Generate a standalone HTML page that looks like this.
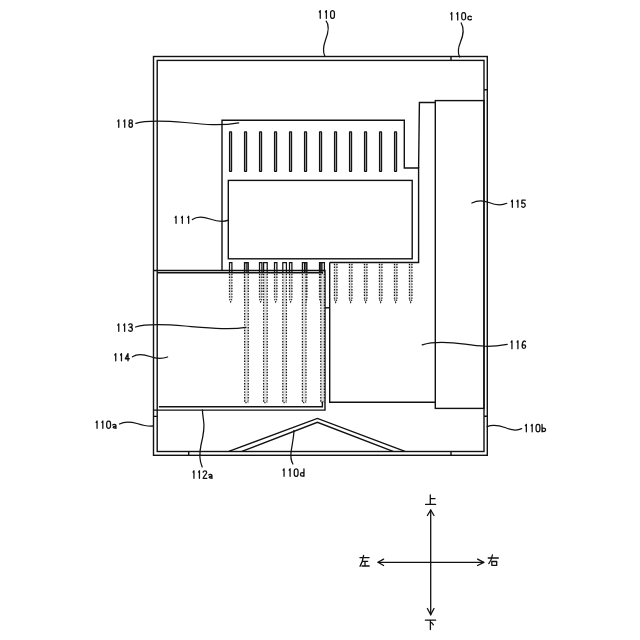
<!DOCTYPE html><html><head><meta charset="utf-8"><style>html,body{margin:0;padding:0;background:#fff;width:640px;height:640px;overflow:hidden}svg{display:block}text{font-family:"Liberation Sans",sans-serif;fill:#111}</style></head><body>
<svg width="640" height="640" viewBox="0 0 640 640">
<g fill="none" stroke="#111" stroke-width="1.4" stroke-linecap="butt" stroke-linejoin="miter">
<rect x="153.5" y="56.5" width="333.8" height="398.8"/>
<rect x="157.2" y="60.4" width="326.8" height="391.1"/>
<path d="M451,56.5V60.4 M484,89.7H487.3 M484,416.3H487.3 M153.5,416.4H157.2 M188.7,451.5V455.3 M451,451.5V455.3"/>
<path d="M222,270.5V120.3H404.3V168H418.6V262.5H329.7"/>
<path d="M418.6,168L419.4,102.5H435.3"/>
<rect x="435.3" y="100.6" width="48.7" height="307.8"/>
<path d="M329.7,262.5V402.2H435.3"/>
<rect x="228.3" y="180.4" width="183.9" height="78.4"/>
<path d="M153.5,270.5H325V410.1H153.5 M157.2,272.8H322.4V406.8H158.9"/>
<path d="M325,307.8H329.7"/>
<path d="M228.8,451.3L317.4,418.4L405,451.3 M241.9,451.3L317.4,422.3L393.1,451.3"/>
</g>
<g fill="#999" stroke="#111" stroke-width="1.15">
<rect x="229.50" y="131.8" width="2.1" height="39.6" rx="0.35" ry="0.35"/>
<rect x="244.50" y="131.8" width="2.1" height="39.6" rx="0.35" ry="0.35"/>
<rect x="259.50" y="131.8" width="2.1" height="39.6" rx="0.35" ry="0.35"/>
<rect x="274.50" y="131.8" width="2.1" height="39.6" rx="0.35" ry="0.35"/>
<rect x="289.50" y="131.8" width="2.1" height="39.6" rx="0.35" ry="0.35"/>
<rect x="304.50" y="131.8" width="2.1" height="39.6" rx="0.35" ry="0.35"/>
<rect x="319.50" y="131.8" width="2.1" height="39.6" rx="0.35" ry="0.35"/>
<rect x="334.50" y="131.8" width="2.1" height="39.6" rx="0.35" ry="0.35"/>
<rect x="349.50" y="131.8" width="2.1" height="39.6" rx="0.35" ry="0.35"/>
<rect x="364.50" y="131.8" width="2.1" height="39.6" rx="0.35" ry="0.35"/>
<rect x="379.50" y="131.8" width="2.1" height="39.6" rx="0.35" ry="0.35"/>
<rect x="394.50" y="131.8" width="2.1" height="39.6" rx="0.35" ry="0.35"/>
</g>
<g fill="none" stroke="#111" stroke-width="1.25">
<path d="M229.50,272.6V262.5H231.90V272.6"/>
<path stroke="#ddd" stroke-width="2.40" d="M230.70,273.8V300"/>
<path stroke-dasharray="1.4 1.4" d="M229.50,273.8V299 M231.90,273.8V299"/>
<path stroke-dasharray="1.1 1.1" d="M229.50,299.3L230.70,301.8L231.90,299.3"/>
<path d="M244.50,272.6V262.5H246.90V272.6"/>
<path stroke="#ddd" stroke-width="2.40" d="M245.70,273.8V300"/>
<path stroke-dasharray="1.4 1.4" d="M244.50,273.8V299 M246.90,273.8V299"/>
<path stroke-dasharray="1.1 1.1" d="M244.50,299.3L245.70,301.8L246.90,299.3"/>
<path d="M259.50,272.6V262.5H261.90V272.6"/>
<path stroke="#ddd" stroke-width="2.40" d="M260.70,273.8V300"/>
<path stroke-dasharray="1.4 1.4" d="M259.50,273.8V299 M261.90,273.8V299"/>
<path stroke-dasharray="1.1 1.1" d="M259.50,299.3L260.70,301.8L261.90,299.3"/>
<path d="M274.50,272.6V262.5H276.90V272.6"/>
<path stroke="#ddd" stroke-width="2.40" d="M275.70,273.8V300"/>
<path stroke-dasharray="1.4 1.4" d="M274.50,273.8V299 M276.90,273.8V299"/>
<path stroke-dasharray="1.1 1.1" d="M274.50,299.3L275.70,301.8L276.90,299.3"/>
<path d="M289.50,272.6V262.5H291.90V272.6"/>
<path stroke="#ddd" stroke-width="2.40" d="M290.70,273.8V300"/>
<path stroke-dasharray="1.4 1.4" d="M289.50,273.8V299 M291.90,273.8V299"/>
<path stroke-dasharray="1.1 1.1" d="M289.50,299.3L290.70,301.8L291.90,299.3"/>
<path d="M304.50,272.6V262.5H306.90V272.6"/>
<path stroke="#ddd" stroke-width="2.40" d="M305.70,273.8V300"/>
<path stroke-dasharray="1.4 1.4" d="M304.50,273.8V299 M306.90,273.8V299"/>
<path stroke-dasharray="1.1 1.1" d="M304.50,299.3L305.70,301.8L306.90,299.3"/>
<path d="M319.50,272.6V262.5H321.90V272.6"/>
<path stroke="#ddd" stroke-width="2.40" d="M320.70,273.8V300"/>
<path stroke-dasharray="1.4 1.4" d="M319.50,273.8V299 M321.90,273.8V299"/>
<path stroke-dasharray="1.1 1.1" d="M319.50,299.3L320.70,301.8L321.90,299.3"/>
<path stroke="#ddd" stroke-width="2.50" d="M335.70,263.8V300.5"/>
<path stroke-dasharray="1.4 1.4" d="M334.45,263.8V299.3 M336.95,263.8V299.3"/>
<path stroke-dasharray="1.1 1.1" d="M334.45,299.6L335.70,302.2L336.95,299.6"/>
<path stroke="#ddd" stroke-width="2.50" d="M350.70,263.8V300.5"/>
<path stroke-dasharray="1.4 1.4" d="M349.45,263.8V299.3 M351.95,263.8V299.3"/>
<path stroke-dasharray="1.1 1.1" d="M349.45,299.6L350.70,302.2L351.95,299.6"/>
<path stroke="#ddd" stroke-width="2.50" d="M365.70,263.8V300.5"/>
<path stroke-dasharray="1.4 1.4" d="M364.45,263.8V299.3 M366.95,263.8V299.3"/>
<path stroke-dasharray="1.1 1.1" d="M364.45,299.6L365.70,302.2L366.95,299.6"/>
<path stroke="#ddd" stroke-width="2.50" d="M380.70,263.8V300.5"/>
<path stroke-dasharray="1.4 1.4" d="M379.45,263.8V299.3 M381.95,263.8V299.3"/>
<path stroke-dasharray="1.1 1.1" d="M379.45,299.6L380.70,302.2L381.95,299.6"/>
<path stroke="#ddd" stroke-width="2.50" d="M395.70,263.8V300.5"/>
<path stroke-dasharray="1.4 1.4" d="M394.45,263.8V299.3 M396.95,263.8V299.3"/>
<path stroke-dasharray="1.1 1.1" d="M394.45,299.6L395.70,302.2L396.95,299.6"/>
<path stroke="#ddd" stroke-width="2.50" d="M410.70,263.8V300.5"/>
<path stroke-dasharray="1.4 1.4" d="M409.45,263.8V299.3 M411.95,263.8V299.3"/>
<path stroke-dasharray="1.1 1.1" d="M409.45,299.6L410.70,302.2L411.95,299.6"/>
<path d="M244.65,272.6V262.5H248.25V272.6"/>
<path stroke="#e2e2e2" stroke-width="3.60" d="M246.45,273.8V401.5"/>
<path stroke-dasharray="1.4 1.4" d="M244.65,273.8V400.5 M248.25,273.8V400.5"/>
<path stroke-dasharray="1.1 1.0" d="M244.65,400.5Q244.65,402.6 246.45,402.6Q248.25,402.6 248.25,400.5"/>
<path d="M263.60,272.6V262.5H267.20V272.6"/>
<path stroke="#e2e2e2" stroke-width="3.60" d="M265.40,273.8V401.5"/>
<path stroke-dasharray="1.4 1.4" d="M263.60,273.8V400.5 M267.20,273.8V400.5"/>
<path stroke-dasharray="1.1 1.0" d="M263.60,400.5Q263.60,402.6 265.40,402.6Q267.20,402.6 267.20,400.5"/>
<path d="M282.80,272.6V262.5H286.40V272.6"/>
<path stroke="#e2e2e2" stroke-width="3.60" d="M284.60,273.8V401.5"/>
<path stroke-dasharray="1.4 1.4" d="M282.80,273.8V400.5 M286.40,273.8V400.5"/>
<path stroke-dasharray="1.1 1.0" d="M282.80,400.5Q282.80,402.6 284.60,402.6Q286.40,402.6 286.40,400.5"/>
<path d="M302.40,272.6V262.5H306.00V272.6"/>
<path stroke="#e2e2e2" stroke-width="3.60" d="M304.20,273.8V401.5"/>
<path stroke-dasharray="1.4 1.4" d="M302.40,273.8V400.5 M306.00,273.8V400.5"/>
<path stroke-dasharray="1.1 1.0" d="M302.40,400.5Q302.40,402.6 304.20,402.6Q306.00,402.6 306.00,400.5"/>
<path d="M320.80,272.6V262.5H324.40V272.6"/>
<path stroke="#e2e2e2" stroke-width="3.60" d="M322.60,273.8V401.5"/>
<path stroke-dasharray="1.4 1.4" d="M320.80,273.8V400.5 M324.40,273.8V400.5"/>
<path stroke-dasharray="1.1 1.0" d="M320.80,400.5Q320.80,402.6 322.60,402.6Q324.40,402.6 324.40,400.5"/>
</g>
<g fill="none" stroke="#111" stroke-width="1.25" stroke-linecap="round">
<path d="M326.2,21.1C329.5,25 328.5,32 325.5,40C323,47 322.5,52 325,56.5"/>
<path d="M461.2,23C464,28 463.5,35 460.5,42C458,48 457.5,53 459.7,57"/>
<path d="M135.8,123.3C145,120.5 160,120.5 185,122.5C205,124.5 220,126 238.7,122.8"/>
<path d="M192.4,219.5C197,216 203,216.5 210,219C217,221.5 223,222.5 228.5,220.2"/>
<path d="M471.9,203C477,200.5 483,200.3 489,202.5C495,205 500,206.3 506.8,203.3"/>
<path d="M135.6,327C145,324 160,324 185,326C210,328 230,330 245.9,327.3"/>
<path d="M132.4,356.8C137,353.8 143,354 150,356.5C156,358.7 162,359 167.6,357"/>
<path d="M422.2,344.8C433,341.5 448,341.8 465,344.2C480,346.5 490,347.3 507.2,344.4"/>
<path d="M119.5,424C124,421.5 130,421.5 137,423.5C144,425.7 149,426.5 153.5,425.9"/>
<path d="M487.1,426.6C492,424.5 498,425 505,427.5C512,430.5 517,431 521.6,428.6"/>
<path d="M202.2,466.9C199.5,461 199.5,452 201,445C203,437 205,428 203.5,420C202.8,415 202.3,412 202.5,410"/>
<path d="M292.9,464C290.8,460.5 290.5,456 291.2,451C292,445 293.8,437 294,430.5"/>
</g>
<g fill="none" stroke="#111" stroke-width="1.3" stroke-linecap="round" stroke-linejoin="round">
<path d="M319.35,11.95L320.25,10.65V18.35M325.48,11.95L326.38,10.65V18.35M332.50,10.65C334.52,10.65 334.43,12.58 334.43,14.50C334.43,16.43 334.52,18.35 332.50,18.35C330.48,18.35 330.57,16.43 330.57,14.50C330.57,12.58 330.48,10.65 332.50,10.65Z"/>
<path d="M450.85,13.85L451.75,12.55V19.95M456.80,13.85L457.70,12.55V19.95M463.65,12.55C465.67,12.55 465.58,14.40 465.58,16.25C465.58,18.10 465.67,19.95 463.65,19.95C461.63,19.95 461.73,18.10 461.73,16.25C461.73,14.40 461.63,12.55 463.65,12.55ZM471.35,16.75C470.55,15.70 467.85,15.70 467.85,18.00C467.85,20.30 470.55,20.30 471.35,19.25"/>
<path d="M117.85,121.15L118.75,119.85V127.25M123.82,121.15L124.72,119.85V127.25M130.70,119.85C132.91,119.85 132.91,123.05 130.70,123.05C128.49,123.05 128.49,119.85 130.70,119.85ZM130.70,123.05C133.03,123.05 133.03,127.25 130.70,127.25C128.37,127.25 128.37,123.05 130.70,123.05Z"/>
<path d="M175.15,217.55L176.05,216.25V223.35M181.45,217.55L182.35,216.25V223.35M187.75,217.55L188.65,216.25V223.35"/>
<path d="M511.45,201.45L512.35,200.15V207.35M517.02,201.45L517.92,200.15V207.35M525.25,200.15H522.00L521.75,203.55C522.90,202.55 525.25,202.65 525.25,205.25C525.25,207.80 521.75,207.80 521.75,206.15"/>
<path d="M117.85,325.15L118.75,323.85V331.25M123.72,325.15L124.62,323.85V331.25M128.75,324.85C129.05,323.45 132.25,323.45 132.20,325.35C132.15,326.85 130.80,327.25 130.00,327.25M130.40,327.25C132.40,327.25 132.40,328.25 132.40,329.65C132.40,331.70 128.75,331.70 128.75,330.15"/>
<path d="M114.85,354.95L115.75,353.65V360.85M120.57,354.95L121.47,353.65V360.85M128.00,360.85V353.65L125.30,358.75H129.30"/>
<path d="M511.05,342.05L511.95,340.75V348.65M517.02,342.05L517.92,340.75V348.65M525.45,341.65C524.90,340.40 522.15,340.45 522.15,346.50M522.15,346.50C522.15,344.35 525.65,344.35 525.65,346.50C525.65,348.95 522.15,348.95 522.15,346.50"/>
<path d="M96.15,422.35L97.05,421.05V428.35M101.93,422.35L102.83,421.05V428.35M108.62,421.05C110.64,421.05 110.54,422.88 110.54,424.70C110.54,426.52 110.64,428.35 108.62,428.35C106.60,428.35 106.69,426.52 106.69,424.70C106.69,422.88 106.60,421.05 108.62,421.05ZM112.85,424.95C113.35,424.20 115.95,424.15 115.95,425.45V428.45M115.95,426.15C112.05,426.05 112.35,428.85 115.95,427.75"/>
<path d="M525.45,425.65L526.35,424.35V431.75M531.27,425.65L532.17,424.35V431.75M537.98,424.35C540.00,424.35 539.91,426.20 539.91,428.05C539.91,429.90 540.00,431.75 537.98,431.75C535.96,431.75 536.06,429.90 536.06,428.05C536.06,426.20 535.96,424.35 537.98,424.35ZM542.05,424.35V431.75M542.05,429.80C542.05,427.55 545.55,427.45 545.55,429.80C545.55,432.15 542.05,432.05 542.05,429.80"/>
<path d="M193.05,472.05L193.95,470.75V478.35M198.53,472.05L199.43,470.75V478.35M203.17,472.15C203.17,470.40 206.67,470.40 206.67,472.45C206.67,474.15 203.17,476.55 203.17,478.35H206.82M208.85,474.95C209.35,474.20 211.95,474.15 211.95,475.45V478.45M211.95,476.15C208.05,476.05 208.35,478.85 211.95,477.75"/>
<path d="M283.15,470.15L284.05,468.85V476.35M289.20,470.15L290.10,468.85V476.35M296.15,468.85C298.17,468.85 298.08,470.72 298.08,472.60C298.08,474.48 298.17,476.35 296.15,476.35C294.13,476.35 294.23,474.48 294.23,472.60C294.23,470.72 294.13,468.85 296.15,468.85ZM303.95,468.85V476.35M303.95,474.40C303.95,472.05 300.45,472.15 300.45,474.40C300.45,476.65 303.95,476.75 303.95,474.40"/>
</g>
<g fill="none" stroke="#111" stroke-width="1.3" stroke-linecap="round" stroke-linejoin="round">
<path d="M430.7,510V614.8 M378,562.3H483.8"/>
<path d="M427.4,515.5L430.7,510L434,515.5 M427.4,608.5L430.7,614.8L434,608.5 M383.6,559.1L378,562.3L383.6,565.5 M477.6,559.1L483.8,562.3L477.6,565.5"/>
<path d="M430.3,494.8V504.4 M430.3,498.7H435 M425.6,504.4H435.6"/>
<path d="M425.4,620.2H435.6 M430.4,620.2V629.6 M431.6,622.6L433.4,624.8"/>
<path d="M360,557.7H369 M363.6,555.4C363,560 361.8,563.5 360,566.3 M362.2,561.3H367.7 M365,561.3V566 M362,566H369.2"/>
<path d="M488.2,558H498.3 M492.4,555C491.8,558.5 490.5,561.5 488.8,563.6 M491.8,561.5H496.7V565.3H491.8Z"/>
</g>
</svg></body></html>
